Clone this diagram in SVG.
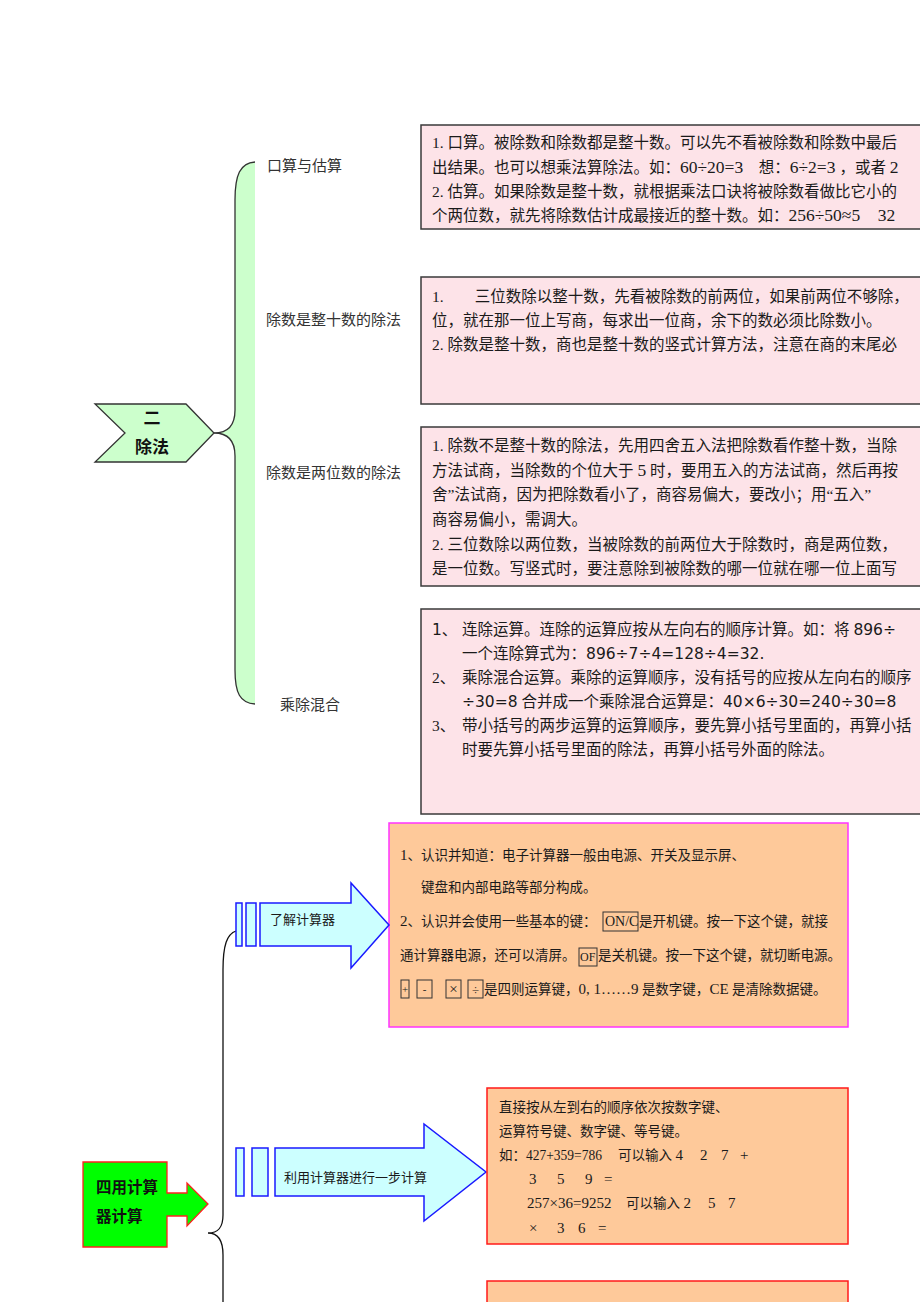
<svg xmlns="http://www.w3.org/2000/svg" width="920" height="1302" viewBox="0 0 920 1302">
<style>
.bg{fill:#ffffff}
.pinkbox{fill:#fde3e8;stroke:#3a3a3a;stroke-width:1.5}
.orangebox{fill:#fec99a;stroke:#ff1a1a;stroke-width:1.5}
.orangebox2{fill:#fec99a;stroke:#ff33ff;stroke-width:1.5}
.cyan{fill:#ccffff;stroke:#1a1aff;stroke-width:1.5}
.t{font-family:"Liberation Serif","Noto Sans CJK SC",serif;fill:#1a1a1a}
.tb{font-size:15.5px}
.d{font-size:17.5px}
.dd{font-size:15.5px}
.lbl{font-family:"Noto Sans CJK SC",sans-serif;font-size:15px;fill:#333}
.ts{font-size:13.5px}
.sans{font-family:"DejaVu Sans","Noto Sans CJK SC",sans-serif}
.key{fill:none;stroke:#333;stroke-width:1}
</style>
<rect class="bg" x="0" y="0" width="920" height="1302"/>

<g id="connectors">
  <path d="M255,162 C240,163 235,175 235,200 L235,410 C235,425 228,433 214,433 C228,433 235,441 235,456 L235,670 C235,693 240,703 255,704 Z" fill="#ccffcc" stroke="none"/>
  <path d="M255,162 C240,163 235,175 235,200 L235,410 C235,425 228,433 214,433 C228,433 235,441 235,456 L235,670 C235,693 240,703 255,704" fill="none" stroke="#333" stroke-width="1.3"/>
  <path d="M236,931 C227,934 223,945 223,970 L223,1215 C223,1228 218,1233 208,1233 C218,1233 223,1240 223,1255 L223,1302" fill="none" stroke="#111" stroke-width="1.3"/>
</g>

<g id="node-chufa">
  <polygon points="95,404 186,404 214,433 186,462 95,462 125,433" fill="#ccffcc" stroke="#333" stroke-width="1.3"/>
  <text x="152" y="424" text-anchor="middle" font-family="Noto Sans CJK SC,sans-serif" font-size="17" font-weight="600" fill="#111">二</text>
  <text x="152" y="453" text-anchor="middle" font-family="Noto Sans CJK SC,sans-serif" font-size="17" font-weight="600" fill="#111">除法</text>
</g>

<g id="label-kousuan"><text class="lbl" x="267" y="171">口算与估算</text></g>
<g id="label-zhengshi"><text class="lbl" x="266" y="325">除数是整十数的除法</text></g>
<g id="label-liangwei"><text class="lbl" x="266" y="478">除数是两位数的除法</text></g>
<g id="label-chengchu"><text class="lbl" x="280" y="710">乘除混合</text></g>

<g id="box-kousuan">
  <rect class="pinkbox" x="421" y="125" width="510" height="104"/>
  <text class="t tb" x="432" y="148"><tspan class="dd">1.</tspan> 口算。被除数和除数都是整十数。可以先不看被除数和除数中最后</text>
  <text class="t tb" x="432" y="173">出结果。也可以想乘法算除法。如：<tspan class="d">60÷20=3</tspan>　想：<tspan class="d">6÷2=3</tspan> ，或者 <tspan class="d">2</tspan></text>
  <text class="t tb" x="432" y="197"><tspan class="dd">2.</tspan> 估算。如果除数是整十数，就根据乘法口诀将被除数看做比它小的</text>
  <text class="t tb" x="432" y="221">个两位数，就先将除数估计成最接近的整十数。如：<tspan class="d">256÷50≈5　32</tspan></text>
</g>

<g id="box-zhengshi">
  <rect class="pinkbox" x="421" y="277" width="510" height="127"/>
  <text class="t tb" x="432" y="302"><tspan class="dd">1.</tspan>　　三位数除以整十数，先看被除数的前两位，如果前两位不够除，</text>
  <text class="t tb" x="432" y="326">位，就在那一位上写商，每求出一位商，余下的数必须比除数小。</text>
  <text class="t tb" x="432" y="350"><tspan class="dd">2.</tspan> 除数是整十数，商也是整十数的竖式计算方法，注意在商的末尾必</text>
</g>

<g id="box-liangwei">
  <rect class="pinkbox" x="421" y="427" width="510" height="159"/>
  <text class="t tb" x="432" y="451"><tspan class="dd">1.</tspan> 除数不是整十数的除法，先用四舍五入法把除数看作整十数，当除</text>
  <text class="t tb" x="432" y="476">方法试商，当除数的个位大于 <tspan class="d">5</tspan> 时，要用五入的方法试商，然后再按</text>
  <text class="t tb" x="432" y="500">舍”法试商，因为把除数看小了，商容易偏大，要改小；用“五入”</text>
  <text class="t tb" x="432" y="525">商容易偏小，需调大。</text>
  <text class="t tb" x="432" y="550"><tspan class="dd">2.</tspan> 三位数除以两位数，当被除数的前两位大于除数时，商是两位数，</text>
  <text class="t tb" x="432" y="574">是一位数。写竖式时，要注意除到被除数的哪一位就在哪一位上面写</text>
</g>

<g id="box-chengchu">
  <rect class="pinkbox" x="421" y="609" width="510" height="205"/>
  <text class="t tb sans" x="432" y="635">1、</text>
  <text class="t tb" x="462" y="635">连除运算。连除的运算应按从左向右的顺序计算。如：将 <tspan class="sans">896÷</tspan></text>
  <text class="t tb" x="462" y="659">一个连除算式为：<tspan class="sans">896÷7÷4=128÷4=32.</tspan></text>
  <text class="t tb" x="432" y="683"><tspan class="dd">2</tspan>、</text>
  <text class="t tb" x="462" y="683">乘除混合运算。乘除的运算顺序，没有括号的应按从左向右的顺序</text>
  <text class="t tb" x="462" y="707"><tspan class="sans">÷30=8</tspan> 合并成一个乘除混合运算是：<tspan class="sans">40×6÷30=240÷30=8</tspan></text>
  <text class="t tb" x="432" y="731"><tspan class="dd">3</tspan>、</text>
  <text class="t tb" x="462" y="731">带小括号的两步运算的运算顺序，要先算小括号里面的，再算小括</text>
  <text class="t tb" x="462" y="755">时要先算小括号里面的除法，再算小括号外面的除法。</text>
</g>

<g id="box-liaojie">
  <rect class="orangebox2" x="389" y="823" width="459" height="204"/>
  <text class="t ts" x="400" y="860"><tspan font-size="15">1</tspan>、认识并知道：电子计算器一般由电源、开关及显示屏、</text>
  <text class="t ts" x="421" y="892">键盘和内部电路等部分构成。</text>
  <text class="t ts" x="400" y="926"><tspan font-size="15">2</tspan>、认识并会使用一些基本的键：</text>
  <rect class="key" x="603" y="912" width="35" height="19"/>
  <text class="t" x="605" y="926" font-size="14">ON/C</text>
  <text class="t ts" x="639" y="926">是开机键。按一下这个键，就接</text>
  <text class="t ts" x="400" y="960">通计算器电源，还可以清屏。</text>
  <rect class="key" x="579" y="948" width="18" height="18"/>
  <text class="t" x="580" y="961" font-size="12">OF</text>
  <text class="t ts" x="598" y="960">是关机键。按一下这个键，就切断电源。</text>
  <rect class="key" x="401" y="980" width="8" height="18"/>
  <text class="t" x="405" y="993" font-size="11" text-anchor="middle">+</text>
  <rect class="key" x="417" y="980" width="15" height="18"/>
  <text class="t" x="424.5" y="993" font-size="11" text-anchor="middle">-</text>
  <rect class="key" x="446" y="980" width="15" height="18"/>
  <text class="t" x="453.5" y="994" font-size="15" text-anchor="middle">×</text>
  <rect class="key" x="468" y="980" width="15" height="18"/>
  <text class="t" x="475.5" y="994" font-size="13" text-anchor="middle">÷</text>
  <text class="t ts" x="484" y="994">是四则运算键，<tspan font-size="15">0, 1……9</tspan> 是数字键，<tspan font-size="15">CE</tspan> 是清除数据键。</text>
</g>

<g id="node-liaojie">
  <rect class="cyan" x="236" y="903" width="6" height="43"/>
  <rect class="cyan" x="246" y="903" width="10" height="43"/>
  <polygon class="cyan" points="260,903 351,903 351,883 389,925 351,968 351,946 260,946"/>
  <text class="t" x="270" y="924" font-size="13">了解计算器</text>
</g>

<g id="node-liyong">
  <rect class="cyan" x="236" y="1148" width="8" height="48"/>
  <rect class="cyan" x="252" y="1148" width="16" height="48"/>
  <polygon class="cyan" points="275,1148 424,1148 424,1124 486,1172 424,1221 424,1196 275,1196"/>
  <text class="t" x="284" y="1182" font-size="13">利用计算器进行一步计算</text>
</g>

<g id="box-liyong">
  <rect class="orangebox" x="487" y="1088" width="361" height="156"/>
  <text class="t ts" x="499" y="1112">直接按从左到右的顺序依次按数字键、</text>
  <text class="t ts" x="499" y="1136">运算符号键、数字键、等号键。</text>
  <text class="t ts" x="499" y="1160">如：</text>
  <text class="t" x="526" y="1160" font-size="14" textLength="76" lengthAdjust="spacingAndGlyphs">427+359=786</text>
  <text class="t ts" x="618" y="1160">可以输入 <tspan font-size="15">4</tspan></text>
  <g font-size="15">
  <text class="t" x="700" y="1160">2</text>
  <text class="t" x="721" y="1160">7</text>
  <text class="t" x="740" y="1160">+</text>
  <text class="t" x="529" y="1184">3</text>
  <text class="t" x="557" y="1184">5</text>
  <text class="t" x="585" y="1184">9</text>
  <text class="t" x="604" y="1184">=</text>
  <text class="t" x="527" y="1208">257×36=9252</text>
  <text class="t" x="708" y="1208">5</text>
  <text class="t" x="728" y="1208">7</text>
  <text class="t" x="529" y="1233">×</text>
  <text class="t" x="557" y="1233">3</text>
  <text class="t" x="578" y="1233">6</text>
  <text class="t" x="598" y="1233">=</text>
  </g>
  <text class="t ts" x="626" y="1208">可以输入 <tspan font-size="15">2</tspan></text>
</g>

<g id="box-bottom">
  <rect class="orangebox" x="487" y="1281" width="361" height="40"/>
</g>

<g id="node-sijisuan">
  <polygon points="83,1162 167,1162 167,1193 187,1193 187,1183 208,1204 187,1226 187,1216 167,1216 167,1247 83,1247" fill="#00ff00" stroke="#ff2020" stroke-width="1.3"/>
  <text x="96" y="1193" font-family="Noto Sans CJK SC,sans-serif" font-size="15.5" font-weight="bold" fill="#111">四用计算</text>
  <text x="96" y="1222" font-family="Noto Sans CJK SC,sans-serif" font-size="15.5" font-weight="bold" fill="#111">器计算</text>
</g>
</svg>
